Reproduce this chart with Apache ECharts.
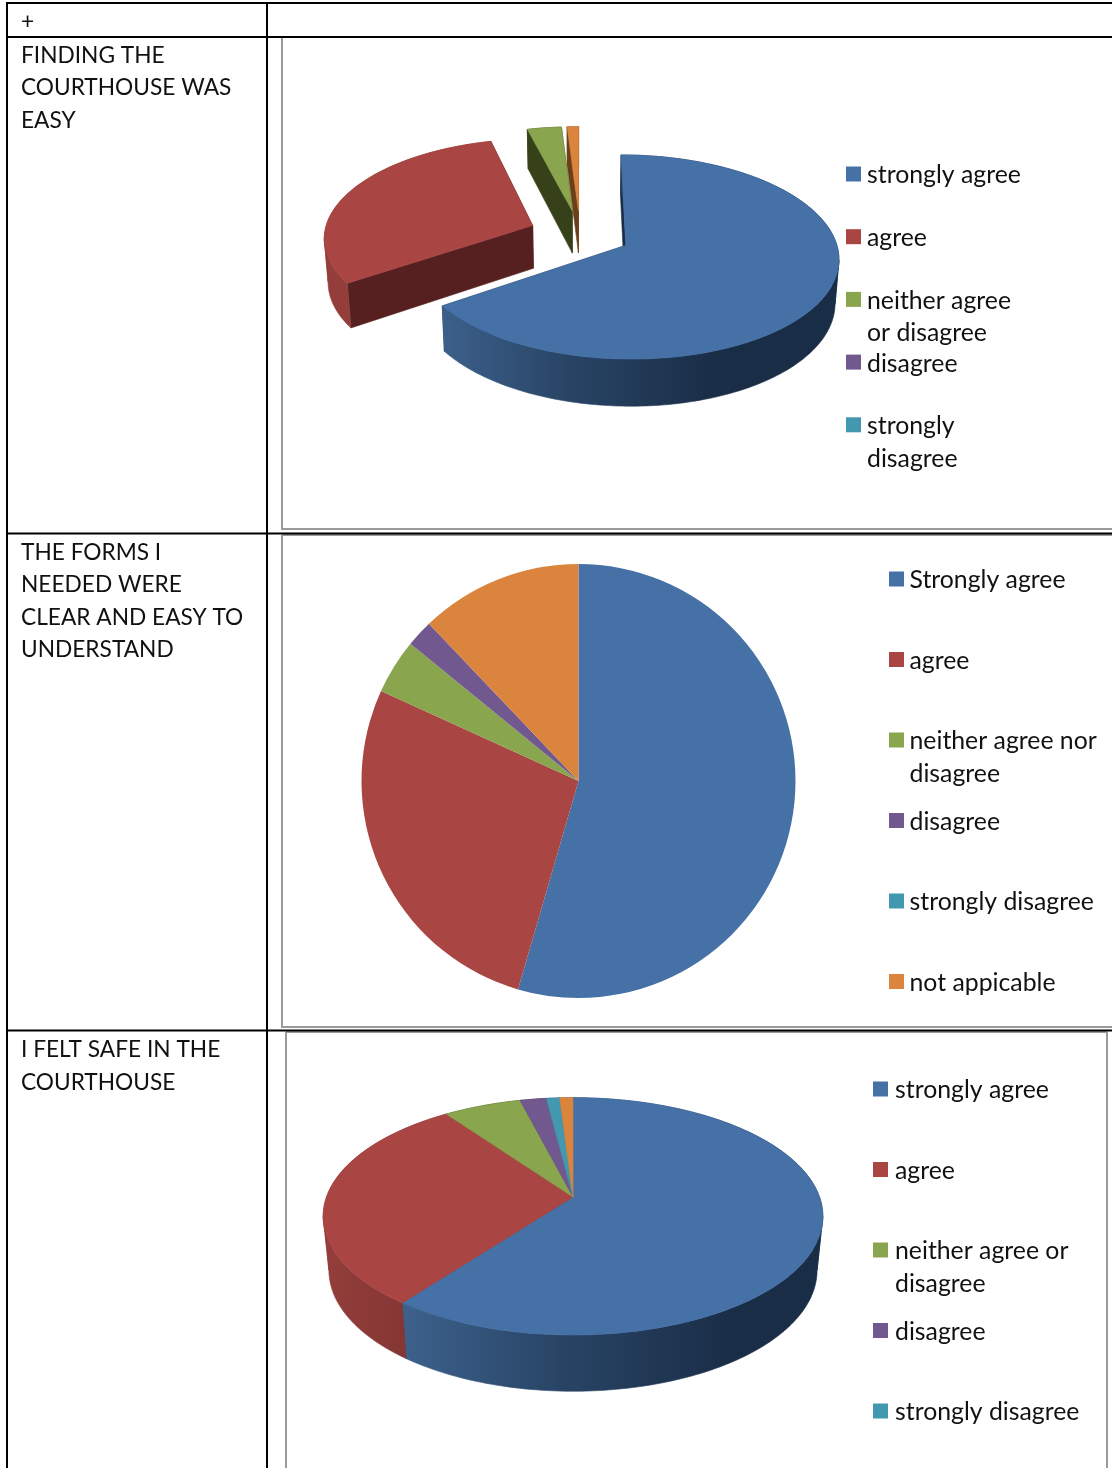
<!DOCTYPE html>
<html>
<head>
<meta charset="utf-8">
<script src="https://cdn.jsdelivr.net/npm/echarts@6/dist/echarts.min.js"></script>
<style>
  html, body { margin: 0; padding: 0; background: #fff; }
  #chart { width: 1112px; height: 1468px; }
</style>
</head>
<body>
<div id="chart"></div>
<script>
const sliceNames = ['strongly agree', 'agree', 'neither agree or disagree', 'disagree', 'strongly disagree', 'not applicable'];

const easyValues = [65.5, 30.5, 3, 0, 0, 1];
const formsValues = [54.5, 27.3, 4.1, 2, 0, 12.1];
const safeValues = [60.3, 29.8, 5.9, 2, 1, 1];

const easyLegend = ['strongly agree', 'agree', 'neither agree\nor disagree', 'disagree', 'strongly\ndisagree'];
const formsLegend = ['Strongly agree', 'agree', 'neither agree nor\ndisagree', 'disagree', 'strongly disagree', 'not appicable'];
const safeLegend = ['strongly agree', 'agree', 'neither agree or\ndisagree', 'disagree', 'strongly disagree'];

const rowLabels = [
  ['+'],
  ['FINDING THE', 'COURTHOUSE WAS', 'EASY'],
  ['THE FORMS I', 'NEEDED WERE', 'CLEAR AND EASY TO', 'UNDERSTAND'],
  ['I FELT SAFE IN THE', 'COURTHOUSE']
];

const colors = ['#4571a7', '#a94543', '#89a54e', '#71588f', '#4198af', '#db843d'];
const faceColors = ['#1a2d47', '#55201f', '#374119', '#33264a', '#1c4450', '#6b3f17'];
const LABEL_FONT = '22.7px Lato, sans-serif';
const LEGEND_FONT = '24.8px Lato, sans-serif';

// tilted pies: a small perspective projection of the unit disc
const easyPie = { cx: 580, cy: 234, rx: 208.5, ry: 98.2, p: 0.112, explode: 0.245, depth: 43, sx: 0.985, sy: 1.033 };
const safePie = { cx: 573, cy: 1197, rx: 246.5, ry: 115.5, p: 0.163, explode: 0, depth: 53.5, sx: 0.977, sy: 1.02 };

function project(pie, u, v, bottom) {
  const w = 1 - pie.p * v;
  const x = pie.rx * u / w;
  const y = pie.ry * v / w;
  if (!bottom) return [pie.cx + x, pie.cy + y];
  return [pie.cx + x * pie.sx, pie.cy + pie.depth + y * pie.sy];
}

function sliceAngles(values, i) {
  const total = values.reduce((a, b) => a + b, 0);
  let start = 0;
  for (let k = 0; k < i; k++) start += values[k];
  return [start / total * Math.PI * 2, (start + values[i]) / total * Math.PI * 2];
}

function slicePoints(pie, values, i) {
  const [a0, a1] = sliceAngles(values, i);
  const mid = (a0 + a1) / 2;
  const ox = pie.explode * Math.sin(mid);
  const oy = -pie.explode * Math.cos(mid);
  const steps = Math.max(2, Math.ceil((a1 - a0) / 0.02));
  const rim = [];
  for (let s = 0; s <= steps; s++) {
    const a = a0 + (a1 - a0) * s / steps;
    rim.push([ox + Math.sin(a), oy - Math.cos(a)]);
  }
  return { apex: [ox, oy], rim };
}

function wallFill(pie, i) {
  if (i === 0) {
    return {
      type: 'linear', global: true,
      x: pie.cx - pie.rx * 0.75, y: 0, x2: pie.cx + pie.rx * 0.65, y2: 0,
      colorStops: [
        { offset: 0, color: '#3f6490' },
        { offset: 0.5, color: '#284465' },
        { offset: 1, color: '#1a2d47' }
      ]
    };
  }
  if (i === 1) {
    return {
      type: 'linear', global: true,
      x: pie.cx - pie.rx, y: 0, x2: pie.cx - pie.rx * 0.6, y2: 0,
      colorStops: [
        { offset: 0, color: '#933e3b' },
        { offset: 1, color: '#813432' }
      ]
    };
  }
  return faceColors[i];
}

function polygon(points, fill) {
  return { type: 'polygon', shape: { points }, style: { fill, stroke: fill, lineWidth: 0.6 } };
}

// break the rim where it turns back in x, one polygon folds over itself there and leaves a hole
function splitRim(pie, rim) {
  const pieces = [];
  let piece = [rim[0]];
  let dir = 0;
  for (let s = 1; s < rim.length; s++) {
    const dx = project(pie, rim[s][0], rim[s][1])[0] - project(pie, rim[s - 1][0], rim[s - 1][1])[0];
    const d = Math.sign(dx);
    if (dir && d && d !== dir) {
      pieces.push(piece);
      piece = [rim[s - 1]];
    }
    if (d) dir = d;
    piece.push(rim[s]);
  }
  pieces.push(piece);
  return pieces;
}

// cut faces go first, then rim walls, then the top faces over them
function tiltedSeries(name, pie, values, part) {
  return {
    name: name + ' ' + part,
    type: 'custom',
    coordinateSystem: 'none',
    silent: true,
    animation: false,
    data: values,
    renderItem(params) {
      const i = params.dataIndex;
      if (!values[i]) return { type: 'group', children: [] };
      const { apex, rim } = slicePoints(pie, values, i);
      const last = rim[rim.length - 1];
      const first = rim[0];
      const children = [];
      if (part === 'faces') {
        [first, last].forEach((r) => {
          children.push(polygon([
            project(pie, apex[0], apex[1]), project(pie, r[0], r[1]),
            project(pie, r[0], r[1], true), project(pie, apex[0], apex[1], true)
          ], faceColors[i]));
        });
      } else if (part === 'rim') {
        const fill = wallFill(pie, i);
        splitRim(pie, rim).forEach((piece) => {
          const top = piece.map((r) => project(pie, r[0], r[1]));
          const bot = piece.map((r) => project(pie, r[0], r[1], true)).reverse();
          children.push(polygon(top.concat(bot), fill));
        });
      } else {
        const top = rim.map((r) => project(pie, r[0], r[1]));
        top.push(project(pie, apex[0], apex[1]));
        children.push(polygon(top, colors[i]));
      }
      return { type: 'group', children };
    }
  };
}

function tiltedPie(name, pie, values) {
  return ['faces', 'rim', 'top'].map((part) => tiltedSeries(name, pie, values, part));
}

function textLine(text, x, y, font) {
  return {
    type: 'text', silent: true, x, y,
    style: { text, fill: '#111', font, textVerticalAlign: 'middle' }
  };
}

function legendItems(names, x, top, step, textGap) {
  const items = [];
  names.forEach((name, i) => {
    const y = top + i * step;
    items.push({
      type: 'rect', silent: true,
      shape: { x, y: y - 7.5, width: 15, height: 15 },
      style: { fill: colors[i] }
    });
    name.split('\n').forEach((line, k) => {
      items.push(textLine(line, x + textGap, y + 1.5 + k * 32.5, LEGEND_FONT));
    });
  });
  return items;
}

function hLine(x1, x2, y, stroke, lineWidth) {
  return { type: 'line', silent: true, shape: { x1, y1: y, x2, y2: y }, style: { stroke, lineWidth } };
}
function vLine(x, y1, y2, stroke, lineWidth) {
  return { type: 'line', silent: true, shape: { x1: x, y1, x2: x, y2 }, style: { stroke, lineWidth } };
}

const tableLines = [
  hLine(7, 1112, 3, '#000', 2),
  hLine(7, 1112, 37, '#000', 2),
  hLine(7, 1112, 533.5, '#000', 2),
  hLine(7, 1112, 1030.5, '#000', 2),
  vLine(7, 2, 1468, '#000', 2),
  vLine(267, 2, 1468, '#000', 2)
];
const chartFrames = [
  vLine(282, 37, 530, '#9a9a9a', 2),
  hLine(282, 1112, 529, '#9a9a9a', 2),
  vLine(282, 535, 1028, '#9a9a9a', 2),
  hLine(282, 1112, 535, '#9a9a9a', 2),
  hLine(282, 1112, 1027, '#9a9a9a', 2),
  vLine(286, 1032, 1468, '#9a9a9a', 2),
  hLine(286, 1107, 1032, '#9a9a9a', 2),
  vLine(1107, 1032, 1468, '#9a9a9a', 2)
];

const labelTops = [22, 55.5, 552.5, 1050];
const labelTexts = [];
rowLabels.forEach((lines, r) => {
  lines.forEach((line, k) => labelTexts.push(textLine(line, 21, labelTops[r] + k * 32.5, LABEL_FONT)));
});

const myChart = echarts.init(document.getElementById('chart'), null, { renderer: 'canvas' });

myChart.setOption({
  animation: false,
  backgroundColor: '#fff',
  color: colors,
  graphic: {
    elements: chartFrames.concat(
      tableLines,
      labelTexts,
      legendItems(easyLegend, 846, 174, 62.7, 21),
      legendItems(formsLegend, 889, 579, 80.5, 20.5),
      legendItems(safeLegend, 873, 1089, 80.5, 22)
    )
  },
  series: [
    ...tiltedPie('finding the courthouse', easyPie, easyValues),
    {
      name: 'forms',
      type: 'pie',
      silent: true,
      center: [578.5, 781],
      radius: 217,
      startAngle: 90,
      clockwise: true,
      avoidLabelOverlap: false,
      label: { show: false },
      labelLine: { show: false },
      data: formsValues.map((value, i) => ({ name: sliceNames[i], value }))
    },
    ...tiltedPie('felt safe', safePie, safeValues)
  ]
});
</script>
</body>
</html>
